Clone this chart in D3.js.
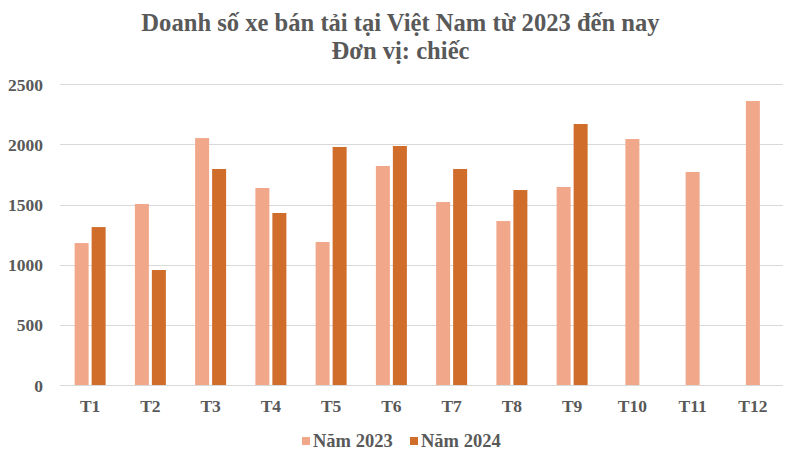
<!DOCTYPE html>
<html>
<head>
<meta charset="utf-8">
<script src="https://cdn.jsdelivr.net/npm/d3@7"></script>
<style>
  html, body { margin: 0; padding: 0; background: #fff; }
  svg { display: block; }
  text { font-family: "Liberation Serif", "Times New Roman", serif; font-weight: bold; fill: #595959; }
</style>
</head>
<body>
<svg id="chart" width="801" height="464"></svg>
<script>
const categories = ["T1","T2","T3","T4","T5","T6","T7","T8","T9","T10","T11","T12"];
const seriesNames = ["Năm 2023", "Năm 2024"];
const values2023 = [1180, 1505, 2053, 1638, 1189, 1821, 1521, 1363, 1646, 2045, 1771, 2361];
const values2024 = [1313, 956, 1796, 1430, 1979, 1987, 1796, 1621, 2170, null, null, null];
const yTicks = [0, 500, 1000, 1500, 2000, 2500];
const titleLines = ["Doanh số xe bán tải tại Việt Nam từ 2023 đến nay", "Đơn vị: chiếc"];
const colors = ["#F1A78A", "#D06D2A"];

const svg = d3.select("#chart");
const W = 801, H = 464;
const margin = { left: 60, right: 18, top: 84.3, bottom: 79 };
const x = d3.scaleBand().domain(categories).range([margin.left, W - margin.right]).paddingInner(0).paddingOuter(0);
const y = d3.scaleLinear().domain([0, 2500]).range([385, 84.3]);

// Title
svg.selectAll("text.title").data(titleLines).enter().append("text")
  .attr("class", "title")
  .attr("x", W / 2)
  .attr("y", (d, i) => 31 + i * 28)
  .attr("text-anchor", "middle")
  .style("font-size", "24.6px")
  .text(d => d);

// Gridlines
svg.append("g").selectAll("line").data(yTicks).enter().append("line")
  .attr("x1", margin.left).attr("x2", W - margin.right)
  .attr("y1", d => Math.round(y(d)) + 0.5).attr("y2", d => Math.round(y(d)) + 0.5)
  .attr("stroke", "#d9d9d9").attr("stroke-width", 1);

// Y axis labels
const yAxis = d3.axisLeft(y).tickValues(yTicks).tickFormat(d3.format("d")).tickSize(0).tickPadding(0);
const gy = svg.append("g").attr("transform", `translate(${margin.left - 17},0)`).call(yAxis);
gy.select(".domain").remove();
gy.selectAll("text").style("font-size", "17.5px").attr("fill", "#595959").attr("dy", "0.35em");

// X axis labels
const xAxis = d3.axisBottom(x).tickSize(0).tickPadding(0);
const gx = svg.append("g").attr("transform", `translate(0,400)`).call(xAxis);
gx.select(".domain").remove();
gx.selectAll("text").style("font-size", "17.5px").attr("fill", "#595959").attr("dy", "0.7em");

// Bars
const barW = 14, gap = 3;
const series = [values2023, values2024];
series.forEach((vals, si) => {
  svg.append("g").selectAll("rect")
    .data(categories.map((c, i) => ({ c, v: vals[i] })).filter(d => d.v != null))
    .enter().append("rect")
    .attr("x", d => {
      const cx = x(d.c) + x.bandwidth() / 2;
      const hasPair = values2024[categories.indexOf(d.c)] != null;
      if (!hasPair) return cx - barW / 2;
      return si === 0 ? cx - gap / 2 - barW : cx + gap / 2;
    })
    .attr("y", d => y(d.v))
    .attr("width", barW)
    .attr("height", d => y(0) - y(d.v))
    .attr("fill", colors[si]);
});

// Legend
const legendItems = [{ name: seriesNames[0], x: 302 }, { name: seriesNames[1], x: 410 }];
const lg = svg.append("g");
legendItems.forEach((it, i) => {
  lg.append("rect").attr("x", it.x).attr("y", 437).attr("width", 8).attr("height", 8).attr("fill", colors[i]);
  lg.append("text").attr("x", it.x + 11).attr("y", 447).style("font-size", "18.5px").text(it.name);
});
</script>
</body>
</html>
